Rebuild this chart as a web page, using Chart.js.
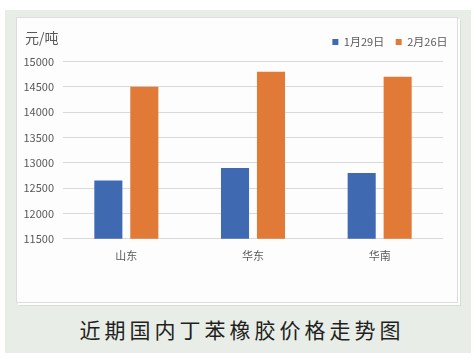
<!DOCTYPE html>
<html><head><meta charset="utf-8">
<script src="https://cdn.jsdelivr.net/npm/chart.js@4/dist/chart.umd.min.js"></script>
<style>
html,body{margin:0;padding:0;background:#fff;width:476px;height:360px;overflow:hidden;font-family:"Noto Sans CJK SC","Noto Sans",sans-serif;}
#panel{position:absolute;left:5px;top:10px;width:466px;height:343px;background:#e8eee7;}
#card{position:absolute;left:16px;top:17px;width:440px;height:284px;background:#fdfdfd;border:1px solid #dcdcdc;box-shadow:2px 2px 0 #fff,3px 3px 0 #d8dcd6;}
#unit{position:absolute;left:25px;top:27px;font-size:14px;color:#595959;}
#title{position:absolute;left:0;top:314px;width:476px;text-align:center;font-size:21px;color:#231f20;letter-spacing:4px;padding-left:4px;}
canvas{position:absolute;left:0;top:0;}
</style></head>
<body>
<div id="panel"></div>
<div id="card"><canvas id="c" width="440" height="284"></canvas></div>
<div id="unit">元/吨</div>
<div id="title">近期国内丁苯橡胶价格走势图</div>
<script>
const categories = ["山东", "华东", "华南"];
const seriesNames = ["1月29日", "2月26日"];
const jan29 = [12650, 12900, 12800];
const feb26 = [14500, 14800, 14700];
const yTicks = [11500, 12000, 12500, 13000, 13500, 14000, 14500, 15000];

const font = {family: '"Noto Sans CJK SC","Noto Sans",sans-serif', size: 11};
const shiftLegend = {
  id: 'shiftLegend',
  afterLayout(chart) {
    const lg = chart.legend;
    if (lg) { lg.left += 16; lg.right += 16; lg.top -= 4; lg.bottom -= 4; }
  }
};
new Chart(document.getElementById('c'), {
  type: 'bar',
  data: {
    labels: categories,
    datasets: [
      {label: seriesNames[0], data: jan29, backgroundColor: '#3f69b1', borderWidth: 0},
      {label: seriesNames[1], data: feb26, backgroundColor: '#e07a36', borderWidth: 0}
    ]
  },
  plugins: [shiftLegend],
  options: {
    responsive: false,
    animation: false,
    layout: {padding: {left: 0, right: 14, top: 11, bottom: 30}},
    categoryPercentage: 0.568,
    barPercentage: 0.78,
    plugins: {
      legend: {
        position: 'top', align: 'end',
        labels: {boxWidth: 6, boxHeight: 6, font: font, color: '#595959', padding: 11.5}
      },
      tooltip: {enabled: false}
    },
    scales: {
      x: {
        grid: {display: false, drawTicks: false},
        border: {display: false},
        ticks: {font: font, color: '#595959', padding: 10}
      },
      y: {
        min: yTicks[0], max: yTicks[yTicks.length - 1],
        afterBuildTicks: (s) => { s.ticks = yTicks.map(v => ({value: v})); },
        afterFit: (s) => { s.width = 46; },
        grid: {color: '#d9d9d9', lineWidth: 1, drawTicks: false},
        border: {display: false},
        ticks: {font: font, color: '#595959', padding: 9, callback: v => String(v)}
      }
    }
  }
});
</script>
</body></html>
